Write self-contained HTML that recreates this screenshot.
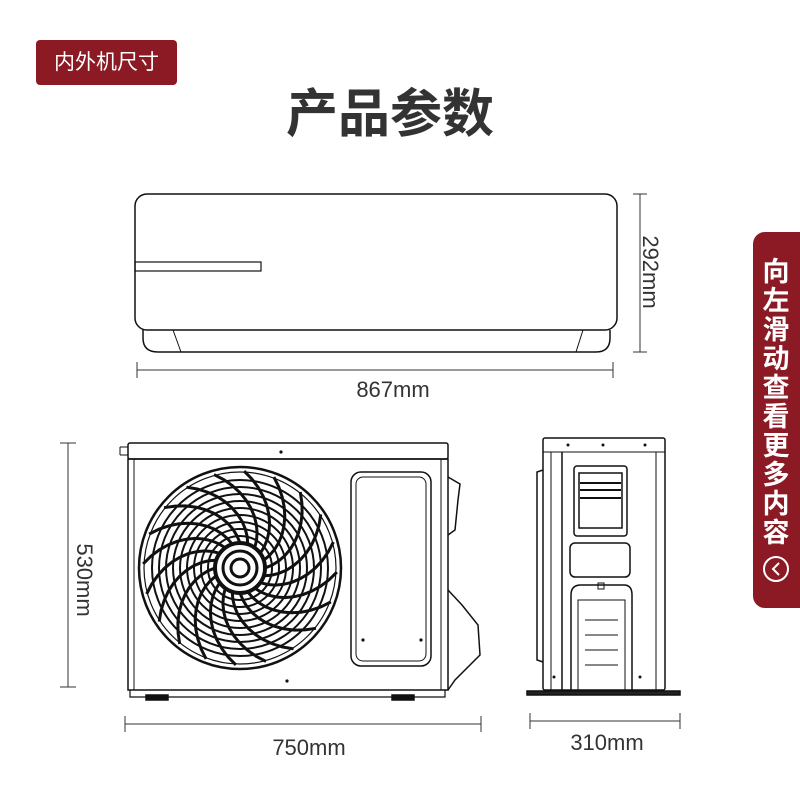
<!DOCTYPE html>
<html><head><meta charset="utf-8"><style>
body{margin:0;background:#fff;}
.wrap{position:relative;width:800px;height:800px;overflow:hidden;font-family:"Liberation Sans","Noto Sans CJK SC",sans-serif;}
.tag{position:absolute;left:36px;top:40px;width:141px;height:45px;background:#8b1a25;border-radius:4px;color:#fff;font-size:21px;line-height:45px;text-align:center;}
.title{position:absolute;left:0;width:780px;top:80px;text-align:center;font-size:52px;font-weight:bold;color:#333;line-height:70px;}
.side{position:absolute;left:753px;top:232px;width:60px;height:376px;background:#8b1a25;border-radius:12px;color:#fff;}
.side .t{position:absolute;left:5px;top:26px;width:36px;font-size:27px;font-weight:bold;line-height:29px;text-align:center;}
</style></head><body><div class="wrap">
<div class="tag">内外机尺寸</div>
<div class="title">产品参数</div>
<div class="side"><div class="t">向左滑动查看更多内容</div>
<svg style="position:absolute;left:6px;top:320px" width="34" height="34"><circle cx="17" cy="17" r="12" fill="none" stroke="#fff" stroke-width="2"/><path d="M20 11 L14 17 L20 23" fill="none" stroke="#fff" stroke-width="2"/></svg></div>
<svg width="800" height="800" style="position:absolute;left:0;top:0" fill="none" stroke="#111" stroke-width="1.5">
<path d="M143 330 L143 338 Q143 352 158 352 L596 352 Q610 352 610 338 L610 330"/>
<rect x="135" y="194" width="482" height="136" rx="12"/>
<rect x="135" y="262" width="126" height="9" stroke-width="1.2"/>
<line x1="173" y1="330" x2="181" y2="352" stroke-width="1"/>
<line x1="583" y1="330" x2="576" y2="352" stroke-width="1"/>
<g stroke="#333" stroke-width="1">
<line x1="640" y1="194" x2="640" y2="352"/><line x1="633" y1="194" x2="647" y2="194"/><line x1="633" y1="352" x2="647" y2="352"/>
<line x1="137" y1="370" x2="613" y2="370"/><line x1="137" y1="362" x2="137" y2="378"/><line x1="613" y1="362" x2="613" y2="378"/>
<line x1="68" y1="443" x2="68" y2="687"/><line x1="60" y1="443" x2="76" y2="443"/><line x1="60" y1="687" x2="76" y2="687"/>
<line x1="125" y1="724" x2="481" y2="724"/><line x1="125" y1="716" x2="125" y2="732"/><line x1="481" y1="716" x2="481" y2="732"/>
<line x1="530" y1="721" x2="680" y2="721"/><line x1="530" y1="713" x2="530" y2="729"/><line x1="680" y1="713" x2="680" y2="729"/>
</g>
<g fill="#333" stroke="none" font-size="22" font-family="Liberation Sans,sans-serif">
<text x="393" y="397" text-anchor="middle">867mm</text>
<text x="309" y="755" text-anchor="middle">750mm</text>
<text x="607" y="750" text-anchor="middle">310mm</text>
<text transform="translate(643,272) rotate(90)" text-anchor="middle">292mm</text>
<text transform="translate(77,580) rotate(90)" text-anchor="middle">530mm</text>
</g>
<rect x="128" y="443" width="320" height="16" rx="2"/>
<rect x="128" y="459" width="320" height="231"/>
<line x1="134" y1="459" x2="134" y2="690" stroke-width="1"/>
<line x1="441" y1="459" x2="441" y2="690" stroke-width="1"/>
<path d="M120 447 L128 447 M120 455 L128 455 M120 447 L120 455" stroke-width="1"/>
<rect x="351" y="472" width="80" height="194" rx="10"/>
<rect x="356" y="477" width="70" height="184" rx="7" stroke-width="1"/>
<path d="M448 477 L460 484 L458 500 L455 530 L448 535"/>
<path d="M448 590 L462 605 L478 625 L480 655 L455 680 L448 690"/>
<path d="M130 690 L130 697 L445 697 L445 690" stroke-width="1.2"/>
<rect x="146" y="695" width="22" height="5" fill="#111"/><rect x="392" y="695" width="22" height="5" fill="#111"/>
<g fill="#111" stroke="none"><circle cx="281" cy="452" r="1.6"/><circle cx="287" cy="681" r="1.6"/><circle cx="363" cy="640" r="1.6"/><circle cx="421" cy="640" r="1.6"/></g>
<g id="fan" stroke-width="1.5"></g>
<rect x="543" y="438" width="122" height="252" rx="2"/>
<line x1="543" y1="452" x2="665" y2="452" stroke-width="1"/>
<line x1="551" y1="452" x2="551" y2="690" stroke-width="1"/><line x1="562" y1="452" x2="562" y2="690" stroke-width="1.5"/>
<line x1="656" y1="452" x2="656" y2="690" stroke-width="1"/>
<path d="M543 470 L537 472 L537 660 L543 662"/>
<rect x="574" y="466" width="53" height="70" rx="3"/>
<rect x="579" y="473" width="43" height="55" fill="#fff"/>
<g stroke-width="2"><line x1="580" y1="483" x2="621" y2="483"/><line x1="580" y1="490" x2="621" y2="490"/><line x1="580" y1="498" x2="621" y2="498"/></g>
<rect x="570" y="543" width="60" height="34" rx="5"/>
<path d="M571 690 L571 595 Q571 585 581 585 L624 585 Q632 585 632 595 L632 690"/>
<path d="M578 690 L578 600 L625 600 L625 690" stroke-width="1"/>
<path d="M585 620 L618 620 M585 635 L618 635 M585 650 L618 650 M585 665 L618 665" stroke-width="1"/>
<rect x="598" y="583" width="6" height="6" stroke-width="1"/>
<path d="M527 691 L680 691 L680 695 L527 695 Z" fill="#222"/>
<g fill="#111" stroke="none"><circle cx="568" cy="445" r="1.5"/><circle cx="603" cy="445" r="1.5"/><circle cx="645" cy="445" r="1.5"/><circle cx="554" cy="677" r="1.5"/><circle cx="640" cy="677" r="1.5"/></g>
</svg>
<script>
var g=document.getElementById('fan'),cx=240,cy=568,s='';
s+='<circle cx="'+cx+'" cy="'+cy+'" r="101" stroke-width="2.5"/><circle cx="'+cx+'" cy="'+cy+'" r="96" stroke-width="1.2"/>';
for(var r=32;r<94;r+=7)s+='<circle cx="'+cx+'" cy="'+cy+'" r="'+r+'" stroke-width="2"/>';
for(var i=0;i<20;i++){var a0=i*Math.PI*2/20,d='';for(var t=0;t<=10;t++){var r=25+t*7.2,a=a0-t*0.09;d+=(t?'L':'M')+(cx+r*Math.cos(a)).toFixed(1)+' '+(cy+r*Math.sin(a)).toFixed(1);}s+='<path d="'+d+'" stroke-width="3"/>';}
s+='<circle cx="'+cx+'" cy="'+cy+'" r="25" fill="#fff" stroke-width="4"/><circle cx="'+cx+'" cy="'+cy+'" r="17" stroke-width="3"/><circle cx="'+cx+'" cy="'+cy+'" r="9" stroke-width="3"/>';
g.innerHTML=s;
</script>
</div></body></html>
